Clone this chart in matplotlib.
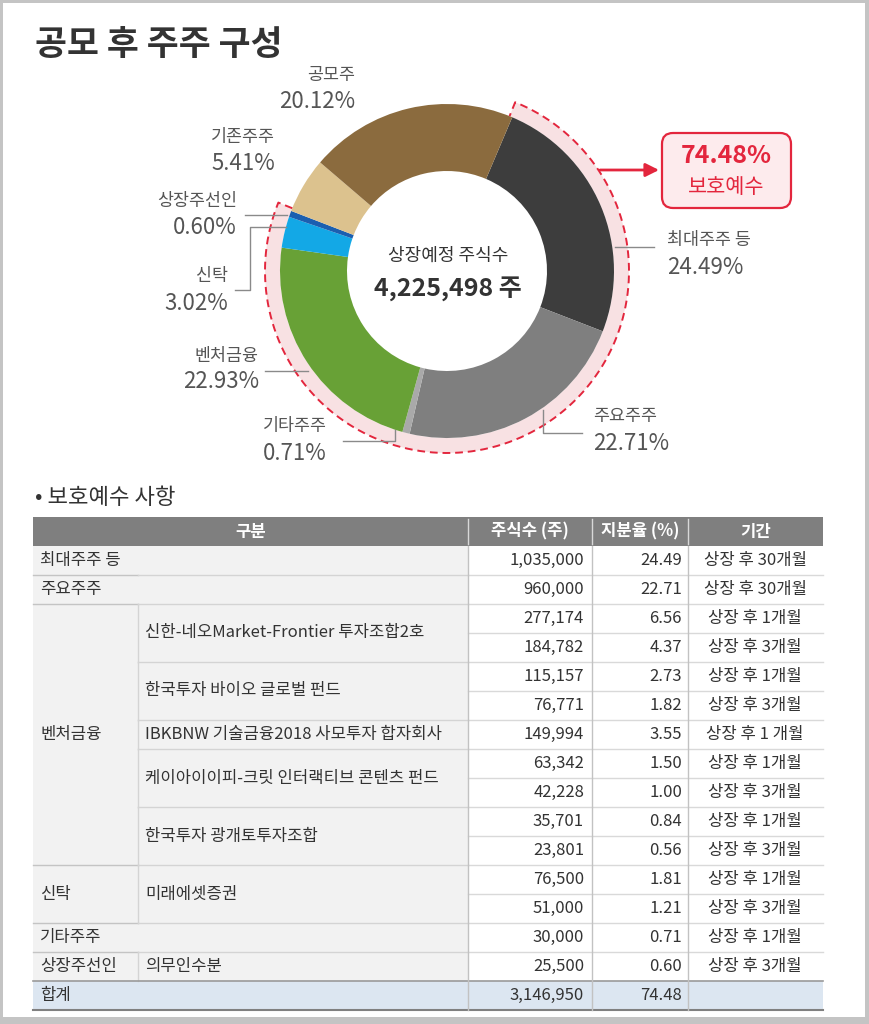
import numpy as np
import matplotlib.pyplot as plt
from matplotlib.patches import Wedge, Rectangle, FancyBboxPatch

plt.rcParams['font.family'] = ['Noto Sans CJK KR', 'DejaVu Sans']

###############################################################################
# Data

# donut: shareholder composition after IPO (clockwise order)
holders = ['최대주주 등', '주요주주', '기타주주', '벤처금융', '신탁', '상장주선인', '기존주주', '공모주']
holder_pct = [24.49, 22.71, 0.71, 22.93, 3.02, 0.60, 5.41, 20.12]
locked_count = 6          # first six slices are under lock-up
locked_pct = 74.48
listed_shares = 4225498

# lock-up table
table_header = ['구분', '주식수 (주)', '지분율 (%)', '기간']
shares = [1035000, 960000, 277174, 184782, 115157, 76771, 149994, 63342, 42228,
          35701, 23801, 76500, 51000, 30000, 25500]
ratios = [24.49, 22.71, 6.56, 4.37, 2.73, 1.82, 3.55, 1.50, 1.00,
          0.84, 0.56, 1.81, 1.21, 0.71, 0.60]
periods = ['상장 후 30개월', '상장 후 30개월', '상장 후 1개월', '상장 후 3개월',
           '상장 후 1개월', '상장 후 3개월', '상장 후 1 개월', '상장 후 1개월',
           '상장 후 3개월', '상장 후 1개월', '상장 후 3개월', '상장 후 1개월',
           '상장 후 3개월', '상장 후 1개월', '상장 후 3개월']
# (label, first row, number of rows)
groups = [('최대주주 등', 0, 1), ('주요주주', 1, 1), ('벤처금융', 2, 9),
          ('신탁', 11, 2), ('기타주주', 13, 1), ('상장주선인', 14, 1)]
funds = [('신한-네오Market-Frontier 투자조합2호', 2, 2),
         ('한국투자 바이오 글로벌 펀드', 4, 2),
         ('IBKBNW 기술금융2018 사모투자 합자회사', 6, 1),
         ('케이아이이피-크릿 인터랙티브 콘텐츠 펀드', 7, 2),
         ('한국투자 광개토투자조합', 9, 2),
         ('미래에셋증권', 11, 2),
         ('의무인수분', 14, 1)]
total_label = '합계'
total_shares = 3146950
total_ratio = 74.48

###############################################################################
# Styles / layout (pixel coordinates, y measured from the top)

W, H = 869, 1024
def Y(y):
    return H - y

holder_colors = ['#3d3d3d', '#7f7f7f', '#a9a9a9', '#68a136', '#13a8e6',
                 '#1b5fb0', '#dcc28e', '#8b6b3e']
red = '#e3263d'
pink = '#f8e1e3'
txt = '#555555'

cx, cy = 447, 271
r_out, r_in, r_band = 167, 100, 182

# label positions: x, y of name, y of percent, alignment
label_pos = {
    '공모주': (355, 75, 101, 'right'),
    '기존주주': (275, 137, 164, 'right'),
    '상장주선인': (237, 201, 227, 'right'),
    '신탁': (228, 276, 303, 'right'),
    '벤처금융': (259, 356, 382, 'right'),
    '기타주주': (327, 426, 453, 'right'),
    '최대주주 등': (667, 240, 268, 'left'),
    '주요주주': (593, 416, 443, 'left'),
}
leaders = {
    '상장주선인': [(245, 215), (287, 215)],
    '신탁': [(235, 290), (250, 290), (250, 227), (286, 227)],
    '벤처금융': [(265, 371), (308, 371)],
    '기타주주': [(343, 441), (395, 441), (395, 430)],
    '주요주주': [(582, 433), (543, 433), (543, 410)],
    '최대주주 등': [(615, 247), (654, 247)],
}

fig = plt.figure(figsize=(W / 100, H / 100), dpi=100, facecolor='#c4c4c4')
ax = fig.add_axes([0, 0, 1, 1])

# white panel
ax.add_patch(Rectangle((3, Y(1017)), 862, 1014, facecolor='white',
                       edgecolor='none', zorder=0))

ax.text(35, Y(45), '공모 후 주주 구성', fontsize=25, fontweight='bold',
        color='#333333', ha='left', va='center')

###############################################################################
# Donut

wedges, _ = ax.pie(holder_pct, colors=holder_colors, center=(cx, Y(cy)),
                   radius=r_out, startangle=67, counterclock=False, frame=True,
                   wedgeprops=dict(width=r_out - r_in, linewidth=0, zorder=2))

# lock-up band
t1 = wedges[locked_count - 1].theta1 - 1
t2 = wedges[0].theta2 + 1
ax.add_patch(Wedge((cx, Y(cy)), r_band, t1, t2, width=r_band - r_out,
                   facecolor=pink, edgecolor='none', zorder=1))
th = np.radians(np.linspace(t1, t2, 400))
bx = np.concatenate([[cx + r_out * np.cos(th[0])], cx + r_band * np.cos(th),
                     [cx + r_out * np.cos(th[-1])]])
by = np.concatenate([[Y(cy) + r_out * np.sin(th[0])], Y(cy) + r_band * np.sin(th),
                     [Y(cy) + r_out * np.sin(th[-1])]])
ax.plot(bx, by, color=red, lw=1.4, linestyle=(0, (4, 2.5)), zorder=3)

ax.text(448, Y(256), '상장예정 주식수', fontsize=13, color='#333333',
        ha='center', va='center', zorder=4)
ax.text(448, Y(289), f'{listed_shares:,} 주', fontsize=18, fontweight='bold',
        color='#333333', ha='center', va='center', zorder=4)

# labels
for name, pct in zip(holders, holder_pct):
    x, yn, yp, ha = label_pos[name]
    ax.text(x, Y(yn), name, fontsize=12.5, color=txt, ha=ha, va='center')
    ax.text(x, Y(yp), f'{pct:.2f}%', fontsize=16, color=txt, ha=ha, va='center')
    if name in leaders:
        pts = leaders[name]
        ax.plot([p[0] for p in pts], [Y(p[1]) for p in pts], color='#8a8a8a',
                lw=1, zorder=4)

# lock-up callout
ax.annotate('', xy=(659, Y(170)), xytext=(600, Y(170)),
            arrowprops=dict(arrowstyle='-|>', color=red, lw=2,
                            mutation_scale=20, shrinkA=0, shrinkB=0))
ax.add_patch(FancyBboxPatch((662, Y(208)), 129, 75,
                            boxstyle='round,pad=0,rounding_size=11',
                            facecolor='#fdebed', edgecolor=red, lw=1.6, zorder=2))
ax.text(726, Y(156), f'{locked_pct:.2f}%', fontsize=18, fontweight='bold',
        color=red, ha='center', va='center', zorder=3)
ax.text(726, Y(187), '보호예수', fontsize=15, color=red, ha='center',
        va='center', zorder=3)

###############################################################################
# Table

ax.text(35, Y(497), '• 보호예수 사항', fontsize=16, color='#333333',
        ha='left', va='center')

xc = [33, 138, 468, 592, 688, 823]
top, rh = 517, 29
n = len(shares)

def row_top(i):
    return top + rh * (i + 1)

tfs = 12
tcol = '#333333'

# header
ax.add_patch(Rectangle((xc[0], Y(top + rh)), xc[-1] - xc[0], rh,
                       facecolor='#7f7f7f', edgecolor='none', zorder=1))
head_x = [(xc[0] + xc[2]) / 2, (xc[2] + xc[3]) / 2, (xc[3] + xc[4]) / 2,
          (xc[4] + xc[5]) / 2]
for hx, h in zip(head_x, table_header):
    ax.text(hx, Y(top + rh / 2), h, fontsize=tfs, fontweight='bold',
            color='white', ha='center', va='center', zorder=3)
for x in xc[2:5]:
    ax.plot([x, x], [Y(top + 2), Y(top + rh - 2)], color='#d8d8d8', lw=1, zorder=2)

# body background
ax.add_patch(Rectangle((xc[0], Y(row_top(n))), xc[2] - xc[0], n * rh,
                       facecolor='#f2f2f2', edgecolor='none', zorder=1))

group_starts = {g[1] for g in groups}
fund_starts = {f[1] for f in funds}
for k in range(1, n):
    yk = Y(row_top(k))
    ax.plot([xc[2], xc[5]], [yk, yk], color='#d9d9d9', lw=1, zorder=2)
    if k in group_starts:
        ax.plot([xc[0], xc[1]], [yk, yk], color='#c4c4c4', lw=1, zorder=2)
        ax.plot([xc[1], xc[2]], [yk, yk], color='#d4d4d4', lw=1, zorder=2)
    elif k in fund_starts:
        ax.plot([xc[1], xc[2]], [yk, yk], color='#d4d4d4', lw=1, zorder=2)

for name, first, cnt in funds:
    ax.plot([xc[1], xc[1]], [Y(row_top(first)), Y(row_top(first + cnt))],
            color='#d4d4d4', lw=1, zorder=2)
    ax.text(145, Y(row_top(first) + cnt * rh / 2), name, fontsize=tfs,
            color=tcol, ha='left', va='center', zorder=3)
for name, first, cnt in groups:
    ax.text(40, Y(row_top(first) + cnt * rh / 2), name, fontsize=tfs,
            color=tcol, ha='left', va='center', zorder=3)

for i in range(n):
    yc = Y(row_top(i) + rh / 2)
    ax.text(584, yc, f'{shares[i]:,}', fontsize=tfs, color=tcol,
            ha='right', va='center', zorder=3)
    ax.text(682, yc, f'{ratios[i]:.2f}', fontsize=tfs, color=tcol,
            ha='right', va='center', zorder=3)
    ax.text(755, yc, periods[i], fontsize=tfs, color=tcol,
            ha='center', va='center', zorder=3)

# total row
ytot = row_top(n)
ax.add_patch(Rectangle((xc[0], Y(ytot + rh)), xc[-1] - xc[0], rh,
                       facecolor='#dce6f1', edgecolor='none', zorder=1))
ax.plot([xc[0], xc[5]], [Y(ytot), Y(ytot)], color='#9a9a9a', lw=1.2, zorder=2)
ax.plot([xc[0], xc[5]], [Y(ytot + rh), Y(ytot + rh)], color='#808080', lw=1.5, zorder=2)
ax.text(40, Y(ytot + rh / 2), total_label, fontsize=tfs, color=tcol,
        ha='left', va='center', zorder=3)
ax.text(584, Y(ytot + rh / 2), f'{total_shares:,}', fontsize=tfs, color=tcol,
        ha='right', va='center', zorder=3)
ax.text(682, Y(ytot + rh / 2), f'{total_ratio:.2f}', fontsize=tfs, color=tcol,
        ha='right', va='center', zorder=3)

for x in xc[2:5]:
    ax.plot([x, x], [Y(top + rh), Y(ytot + rh)], color='#c2c2c2', lw=1, zorder=2)

ax.set_xlim(0, W)
ax.set_ylim(0, H)
ax.set_aspect('auto')
ax.axis('off')

fig.savefig('out.png', dpi=100, facecolor=fig.get_facecolor())
